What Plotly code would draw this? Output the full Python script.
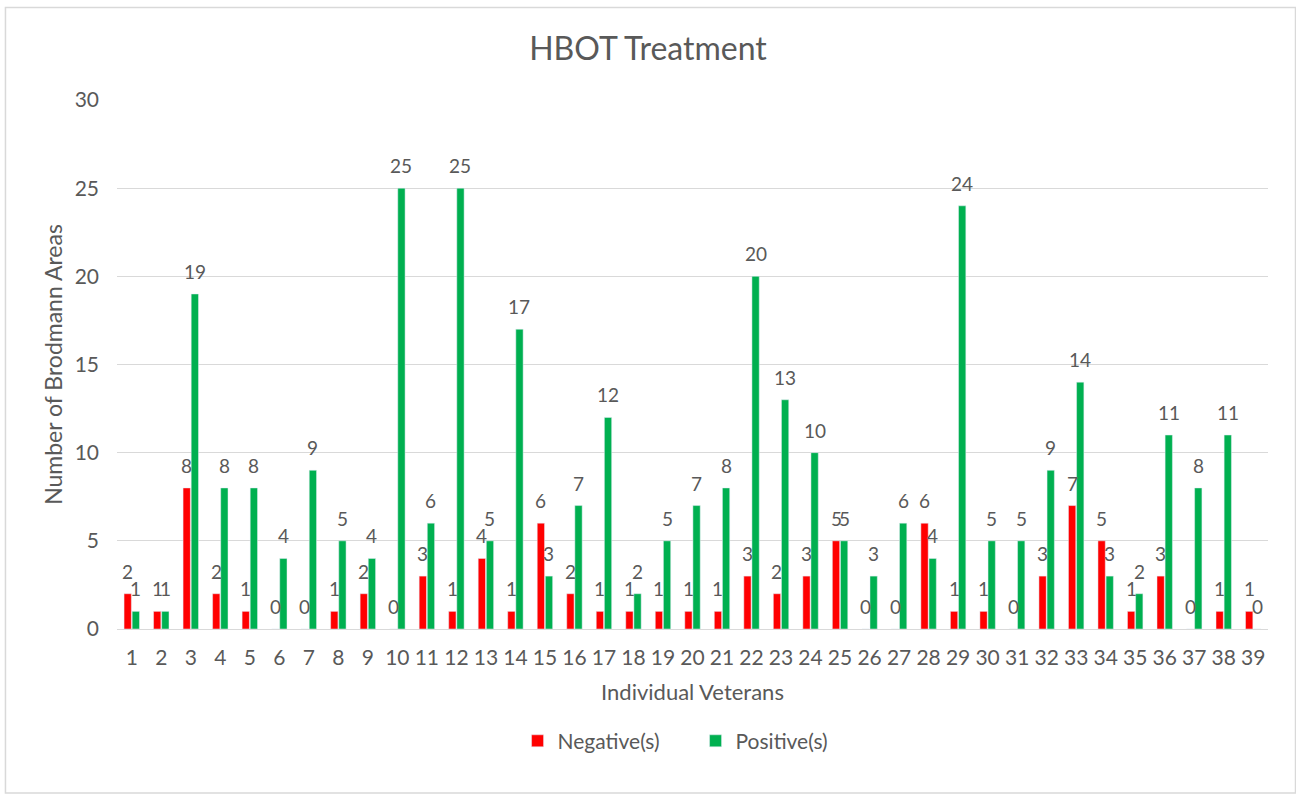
import plotly.graph_objects as go

veterans = [str(i) for i in range(1, 40)]
negative = [2, 1, 8, 2, 1, 0, 0, 1, 2, 0, 3, 1, 4, 1, 6, 2, 1, 1, 1, 1, 1, 3, 2, 3, 5,
            0, 0, 6, 1, 1, 0, 3, 7, 5, 1, 3, 0, 1, 1]
positive = [1, 1, 19, 8, 8, 4, 9, 5, 4, 25, 6, 25, 5, 17, 3, 7, 12, 2, 5, 7, 8, 20, 13, 10, 5,
            3, 6, 4, 24, 5, 5, 9, 14, 3, 2, 11, 8, 11, 0]

FONT = "Lato"
TXT = "#595959"
W, H = 1296, 794
ML, MR, MT, MB = 117, 28, 100, 165
BARGAP = 0.45

fig = go.Figure()
fig.add_trace(go.Bar(x=veterans, y=negative, name="Negative(s)", marker_color="#FF0000"))
fig.add_trace(go.Bar(x=veterans, y=positive, name="Positive(s)", marker_color="#00B050"))

# data labels placed above each bar (Excel "outside end" style)
cat_px = (W - ML - MR) / len(veterans)
half = (1 - BARGAP) * cat_px / 4
annotations = []
for series, sign in ((negative, -1), (positive, 1)):
    for idx, val in enumerate(series):
        annotations.append(dict(x=idx, y=val, xref="x", yref="y", text=str(val),
                                showarrow=False, xshift=sign * half, yshift=9,
                                yanchor="bottom", xanchor="center",
                                font=dict(size=19, color=TXT, family=FONT)))

fig.update_layout(
    width=W, height=H,
    margin=dict(l=ML, r=MR, t=MT, b=MB),
    paper_bgcolor="white", plot_bgcolor="white",
    font=dict(family=FONT, color=TXT, size=20),
    title=dict(text="HBOT Treatment", x=0.5, xanchor="center", y=0.939, yanchor="middle",
               font=dict(size=32, color=TXT, family=FONT)),
    barmode="group", bargap=BARGAP, bargroupgap=0.1,
    legend=dict(orientation="h", x=0.348, xanchor="left", y=-0.212, yanchor="middle",
                font=dict(size=21, color=TXT), itemwidth=30, traceorder="normal",
                entrywidth=133, entrywidthmode="pixels"),
    showlegend=True,
    annotations=annotations,
)
fig.update_xaxes(type="category",
                 title=dict(text="Individual Veterans", font=dict(size=22, color=TXT), standoff=16),
                 tickfont=dict(size=21, color=TXT), ticklabelstandoff=10,
                 showline=True, linecolor="#D9D9D9",
                 linewidth=1, ticks="", showgrid=False)
fig.update_yaxes(title=dict(text="Number of Brodmann Areas", font=dict(size=23, color=TXT), standoff=5),
                 range=[0, 30], dtick=5, tickfont=dict(size=21, color=TXT), ticklabelstandoff=17,
                 showgrid=True, gridcolor="#D9D9D9", gridwidth=1, zeroline=False,
                 showline=False, ticks="")
fig.add_shape(type="rect", xref="paper", yref="paper",
              x0=-0.0969, x1=1.0239, y0=-0.310, y1=1.1749,
              line=dict(color="#D9D9D9", width=1.5), fillcolor="rgba(0,0,0,0)", layer="below")

fig.write_html("out.html", config={"displayModeBar": False},
               post_script="document.body.style.margin='0px';")
